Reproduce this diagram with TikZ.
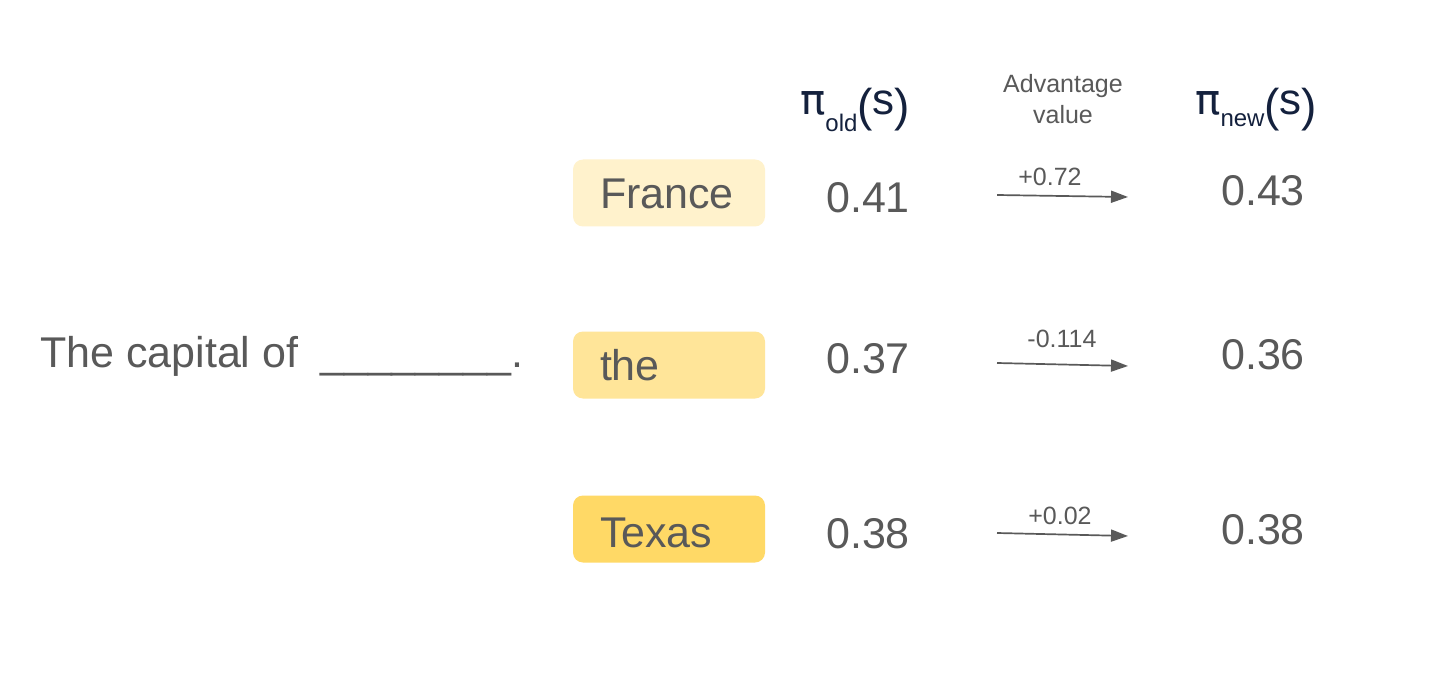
\documentclass[tikz,border=0pt]{standalone}
\usepackage{fontspec}
\setmainfont{Liberation Sans}
\newfontfamily\pifont{DejaVu Sans}
\usetikzlibrary{arrows.meta}
\definecolor{txtgray}{HTML}{595959}
\definecolor{headnavy}{HTML}{14213D}
\definecolor{tokA}{HTML}{FFF2CC}
\definecolor{tokB}{HTML}{FFE599}
\definecolor{tokC}{HTML}{FFD966}
\newcommand{\bigfont}{\fontsize{43}{50}\selectfont}
\newcommand{\smallfont}{\fontsize{25}{30}\selectfont}
\tikzset{
  bigtxt/.style={text=txtgray, font=\bigfont, inner sep=0pt, anchor=base west},
  smalltxt/.style={text=txtgray, font=\smallfont, inner sep=0pt, anchor=base},
  headtxt/.style={text=headnavy, inner sep=0pt, anchor=base west},
  tokbox/.style={rounded corners=10pt, minimum width=192pt, minimum height=67pt,
    text width=138pt, inner xsep=0pt, inner ysep=0pt, align=left, text=txtgray,
    font=\bigfont, text height=31pt, text depth=0pt, anchor=center},
  advarrow/.style={draw=txtgray, line width=1.7pt, -{Triangle[length=17pt,width=12pt]}}
}
\begin{document}
\begin{tikzpicture}[x=1pt,y=-1pt]
\useasboundingbox (0,0) rectangle (1456,679);
\fill[white] (0,0) rectangle (1456,679);

% sentence
\node[bigtxt] (sent) at (40,367) {The capital of};
\node[bigtxt] (blank) at (320,367) {\_\_\_\_\_\_\_\_.};

% headers
\node[headtxt] (hold) at (800,115) {{\pifont\fontsize{42}{42}\selectfont π}\raisebox{-17pt}{\fontsize{24}{24}\selectfont old}\raisebox{-7pt}{\fontsize{46}{46}\selectfont(}{\fontsize{44}{44}\selectfont s}\raisebox{-7pt}{\fontsize{46}{46}\selectfont)}};
\node[smalltxt] (adv1) at (1063,93) {Advantage};
\node[smalltxt] (adv2) at (1063,124) {value};
\node[headtxt] (hnew) at (1195,115) {{\pifont\fontsize{42}{42}\selectfont π}\raisebox{-12pt}{\fontsize{24}{24}\selectfont new}\raisebox{-7pt}{\fontsize{46}{46}\selectfont(}{\fontsize{44}{44}\selectfont s}\raisebox{-7pt}{\fontsize{46}{46}\selectfont)}};

% token boxes
\node[tokbox, fill=tokA] (france) at (669,193) {France};
\node[tokbox, fill=tokB] (the) at (669,365) {the};
\node[tokbox, fill=tokC] (texas) at (669,529) {\raisebox{-3pt}{Texas}};

% old probabilities
\node[bigtxt] (o1) at (826,212) {0.41};
\node[bigtxt] (o2) at (826,373) {0.37};
\node[bigtxt] (o3) at (826,548) {0.38};

% new probabilities
\node[bigtxt] (n1) at (1221,206) {0.43};
\node[bigtxt] (n2) at (1221,369) {0.36};
\node[bigtxt] (n3) at (1221,544) {0.38};

% advantage labels
\node[smalltxt] (l1) at (1050,186) {+0.72};
\node[smalltxt] (l2) at (1062,347) {-0.114};
\node[smalltxt] (l3) at (1060,524) {+0.02};

% arrows
\coordinate (a1s) at (997,195);
\coordinate (a1e) at (1128,197);
\coordinate (a2s) at (997,363);
\coordinate (a2e) at (1128,366);
\coordinate (a3s) at (997,533);
\coordinate (a3e) at (1128,536);
\draw[advarrow] (a1s) -- (a1e);
\draw[advarrow] (a2s) -- (a2e);
\draw[advarrow] (a3s) -- (a3e);
\end{tikzpicture}
\end{document}
